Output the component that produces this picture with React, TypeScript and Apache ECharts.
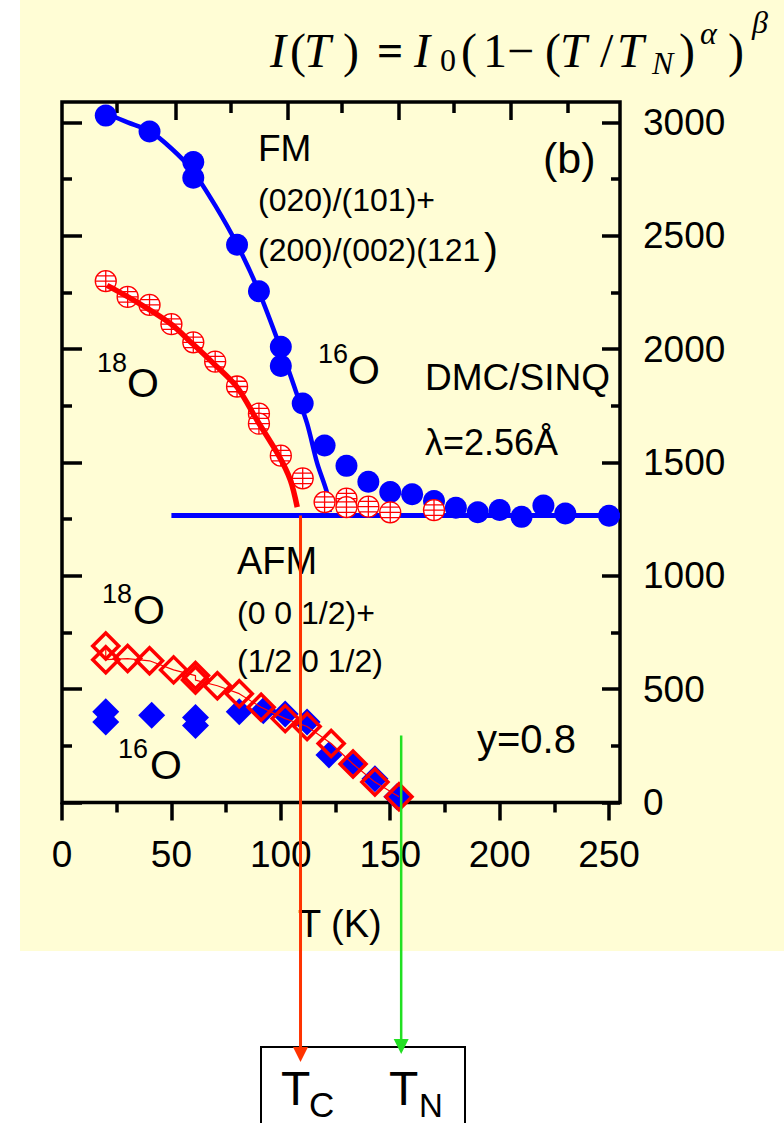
import React, { useEffect, useRef } from "react";
import * as echarts from "echarts";

// ---- data: temperature (K) and integrated intensity ----
// FM reflections, 16O sample
const FM16_T = [20, 40, 60, 60, 80, 90, 100, 100, 110, 120, 130, 140, 150, 160, 170, 180, 190, 200, 210, 220, 230, 250];
const FM16_I = [3030, 2960, 2825, 2756, 2460, 2255, 2010, 1926, 1760, 1575, 1485, 1415, 1370, 1360, 1330, 1300, 1280, 1290, 1260, 1310, 1275, 1265];
// FM reflections, 18O sample
const FM18_T = [20, 30, 40, 50, 60, 70, 80, 90, 90, 100, 110, 120, 130, 130, 140, 150, 170];
const FM18_I = [2300, 2230, 2195, 2110, 2030, 1945, 1835, 1715, 1671, 1530, 1430, 1325, 1340, 1303, 1305, 1280, 1290];
// AFM reflections, 18O sample
const AFM18_T = [20, 20, 30, 40, 51, 61, 61, 71, 81, 91, 102, 112, 123, 133, 143, 154];
const AFM18_I = [690, 630, 635, 625, 585, 560, 540, 515, 480, 420, 370, 335, 260, 170, 90, 25];
// AFM reflections, 16O sample
const AFM16_T = [20, 20, 41, 61, 61, 81, 92, 102, 112, 122, 133, 143, 153];
const AFM16_I = [400, 355, 385, 375, 340, 400, 405, 390, 355, 210, 165, 105, 25];
// fitted curves I(T) = I0(1-(T/TN)^a)^b on top of the background
const FIT16_T = [20.6, 30, 40, 50, 59.5, 70, 80, 90, 101.4, 106.7, 112, 116.6, 121.2, 122.3];
const FIT16_I = [3038, 3000, 2962, 2885, 2790, 2634, 2462, 2254, 1965, 1819, 1672, 1497, 1363, 1281];
const FIT18_T = [20.6, 34.3, 49.5, 59.5, 69.2, 80, 89.2, 99, 104.4, 107.5];
const FIT18_I = [2281, 2207, 2113, 2025, 1937, 1832, 1685, 1531, 1421, 1303];
// constant background level
const BASE_T = [50, 255];
const BASE_I = [1266, 1266];
// transition temperatures marked by the arrows
const TC = 109;
const TN = 155;
const TN_MARK_TOP = 296;

// axis ticks
const X_MAJOR = [0, 50, 100, 150, 200, 250];
const X_MINOR = [25, 75, 125, 175, 225];
const X_TOP_MAJOR = [52, 103, 154, 205];
const X_TOP_MINOR = [25, 77, 128, 179, 231];
const Y_MAJOR = [0, 500, 1000, 1500, 2000, 2500, 3000];
const Y_MINOR = [250, 750, 1250, 1750, 2250, 2750];
const X_MAX = 255;
const Y_MAX = 3090;

const BLUE = "#0000FF";
const RED = "#FF0000";
const ARROW_RED = "#FF3300";
const ARROW_GREEN = "#22E022";
const PANEL = "#FFFDD5";
const SANS = "'Liberation Sans', Arial, Helvetica, sans-serif";
const SERIF = "'Liberation Serif', 'Times New Roman', serif";

const RING =
  "path://M-10 0A10 10 0 1 0 10 0A10 10 0 1 0 -10 0Z M-10 0L10 0M0 -10L0 10M-8.7 -5L8.7 -5M-8.7 5L8.7 5";
const DIAMOND = "path://M0 -10L10 0L0 10L-10 0Z";

const zip = (xs: number[], ys: number[]) => xs.map((x, i) => [x, ys[i]]);

const tickStyle = { color: "#000", width: 3.5 };

function xAxisDef(position: "bottom" | "top", ticks: number[], len: number, inside: boolean, labels: boolean) {
  return {
    type: "value",
    min: 0,
    max: X_MAX,
    position,
    axisLine: { show: false, onZero: false },
    axisTick: { show: true, inside, length: len, lineStyle: tickStyle, customValues: ticks },
    axisLabel: labels
      ? {
          show: true,
          customValues: ticks,
          formatter: (v: number) => String(v),
          fontSize: 37,
          fontFamily: SANS,
          color: "#000",
          margin: 33,
        }
      : { show: false },
    splitLine: { show: false },
  };
}

function yAxisDef(position: "left" | "right", ticks: number[], len: number, labels: boolean) {
  return {
    type: "value",
    min: 0,
    max: Y_MAX,
    position,
    axisLine: { show: false, onZero: false },
    axisTick: { show: true, inside: true, length: len, lineStyle: tickStyle, customValues: ticks },
    axisLabel: labels
      ? {
          show: true,
          customValues: ticks,
          formatter: (v: number) => String(v),
          fontSize: 37,
          fontFamily: SANS,
          color: "#000",
          margin: 23,
        }
      : { show: false },
    splitLine: { show: false },
  };
}

const option = {
  animation: false,
  backgroundColor: "transparent",
  grid: {
    show: true,
    left: 62,
    right: 164,
    top: 102,
    bottom: 320.5,
    borderColor: "#000",
    borderWidth: 3.5,
    backgroundColor: "transparent",
    containLabel: false,
  },
  xAxis: [
    xAxisDef("bottom", X_MAJOR, 18, false, true),
    xAxisDef("bottom", X_MINOR, 10, false, false),
    xAxisDef("top", X_TOP_MAJOR, 18, true, false),
    xAxisDef("top", X_TOP_MINOR, 11, true, false),
  ],
  yAxis: [
    yAxisDef("right", Y_MAJOR, 18, true),
    yAxisDef("right", Y_MINOR, 9, false),
    yAxisDef("left", Y_MAJOR, 20, false),
    yAxisDef("left", Y_MINOR, 10, false),
  ],
  series: [
    {
      type: "line",
      data: zip(BASE_T, BASE_I),
      showSymbol: false,
      silent: true,
      lineStyle: { color: BLUE, width: 5 },
      z: 2,
    },
    {
      type: "line",
      data: zip(FIT16_T, FIT16_I),
      smooth: 0.3,
      showSymbol: false,
      silent: true,
      lineStyle: { color: BLUE, width: 4.5 },
      z: 2,
    },
    {
      type: "scatter",
      data: zip(FM16_T, FM16_I),
      symbol: "circle",
      symbolSize: 22,
      silent: true,
      itemStyle: { color: BLUE, opacity: 1 },
      z: 3,
    },
    {
      type: "scatter",
      data: zip(FM18_T, FM18_I),
      symbol: RING,
      symbolSize: 21,
      silent: true,
      itemStyle: { color: "#FFFFFF", borderColor: RED, borderWidth: 1.3, opacity: 1 },
      z: 4,
    },
    {
      type: "line",
      data: zip(FIT18_T, FIT18_I),
      smooth: 0.3,
      showSymbol: false,
      silent: true,
      lineStyle: { color: RED, width: 5.5 },
      z: 5,
    },
    {
      type: "scatter",
      data: zip(AFM16_T, AFM16_I),
      symbol: "diamond",
      symbolSize: 27,
      silent: true,
      itemStyle: { color: BLUE, opacity: 1 },
      z: 3,
    },
    {
      type: "line",
      data: zip(AFM18_T, AFM18_I),
      showSymbol: false,
      silent: true,
      lineStyle: { color: RED, width: 1.2 },
      z: 4,
    },
    {
      type: "scatter",
      data: zip(AFM18_T, AFM18_I),
      symbol: DIAMOND,
      symbolSize: 26,
      silent: true,
      itemStyle: { color: "rgba(0,0,0,0)", borderColor: RED, borderWidth: 3.5, opacity: 1 },
      z: 4,
    },
  ],
};

function label(text: string, x: number, y: number, size: number, extra: Record<string, unknown> = {}) {
  return {
    type: "text",
    x,
    y,
    silent: true,
    z: 20,
    style: {
      text,
      fill: "#000",
      fontSize: size,
      fontFamily: SANS,
      align: "left",
      verticalAlign: "middle",
      ...extra,
    },
  };
}

function serif(text: string, x: number, y: number, size: number, italic: boolean, bold = false) {
  return label(text, x, y, size, {
    fontFamily: SERIF,
    fontStyle: italic ? "italic" : "normal",
    fontWeight: bold ? "bold" : "normal",
  });
}

// I(T) = I0(1-(T/TN)^α)^β laid out piece by piece
const FORMULA = [
  serif("I", 270, 50, 48, true),
  serif("(", 290, 50, 48, false),
  serif("T", 304, 50, 48, true),
  serif(")", 343, 50, 48, false),
  serif("=", 377, 50, 46, false, true),
  serif("I", 414, 50, 48, true),
  serif("0", 440, 60, 32, false),
  serif("(", 461, 50, 48, false),
  serif("1", 483, 50, 48, false),
  serif("\u2212", 507, 50, 48, false),
  serif("(", 545, 50, 48, false),
  serif("T", 560, 50, 48, true),
  serif("/", 600, 50, 48, false),
  serif("T", 617, 50, 48, true),
  serif("N", 652, 63, 32, true),
  serif(")", 679, 50, 48, false),
  serif("\u03B1", 700, 33, 32, true),
  serif(")", 728, 50, 48, false),
  serif("\u03B2", 752, 22, 32, true),
];

const TEXTS = [
  label("FM", 258, 148, 37),
  label("(020)/(101)+", 258, 200, 32),
  label("(200)/(002)(121", 258, 250, 32),
  label(")", 484, 248, 42),
  label("(b)", 543, 158, 43),
  label("16", 318, 354, 27),
  label("O", 348, 370, 41),
  label("18", 97, 363, 27),
  label("O", 127, 383, 41),
  label("DMC/SINQ", 425, 377, 37),
  label("\u03BB=2.56\u00C5", 425, 442, 36),
  label("AFM", 237, 561, 38),
  label("18", 102, 594, 27),
  label("O", 133, 610, 41),
  label("(0 0 1/2)+", 237, 613, 32),
  label("(1/2 0 1/2)", 237, 661, 32),
  label("16", 118, 749, 27),
  label("O", 150, 765, 41),
  label("y=0.8", 477, 739, 40),
  label("T (K)", 298, 924, 38),
];

export default function App() {
  const ref = useRef<HTMLDivElement>(null);

  useEffect(() => {
    if (!ref.current) return;
    const chart = echarts.init(ref.current, null, { renderer: "svg", width: 784, height: 1123 });
    chart.setOption(option);

    const finder = { xAxisIndex: 0, yAxisIndex: 0 };
    const [xc, yc] = chart.convertToPixel(finder, [TC, BASE_I[0]]) as number[];
    const [xn, yn] = chart.convertToPixel(finder, [TN, TN_MARK_TOP]) as number[];

    const boxTop = 1047;
    const redTip = 1062;
    const greenTip = 1054;

    chart.setOption({
      graphic: [
        ...FORMULA,
        ...TEXTS,
        {
          type: "rect",
          silent: true,
          z: 20,
          shape: { x: 261, y: boxTop, width: 204, height: 90 },
          style: { fill: "none", stroke: "#000", lineWidth: 2 },
        },
        {
          type: "line",
          silent: true,
          z: 21,
          shape: { x1: xc, y1: yc, x2: xc, y2: redTip - 14 },
          style: { stroke: ARROW_RED, lineWidth: 3 },
        },
        {
          type: "polygon",
          silent: true,
          z: 21,
          shape: { points: [[xc - 7.5, redTip - 15], [xc + 7.5, redTip - 15], [xc, redTip]] },
          style: { fill: ARROW_RED },
        },
        {
          type: "line",
          silent: true,
          z: 21,
          shape: { x1: xn, y1: yn, x2: xn, y2: greenTip - 14 },
          style: { stroke: ARROW_GREEN, lineWidth: 2.5 },
        },
        {
          type: "polygon",
          silent: true,
          z: 21,
          shape: { points: [[xn - 7.5, greenTip - 15], [xn + 7.5, greenTip - 15], [xn, greenTip]] },
          style: { fill: ARROW_GREEN },
        },
        label("T", 281, 1088, 48),
        label("C", 309, 1104, 35),
        label("T", 389, 1088, 48),
        label("N", 419, 1105, 33),
      ],
    });

    return () => chart.dispose();
  }, []);

  return (
    <div style={{ position: "absolute", left: 0, top: 0, width: 784, height: 1123, background: "#FFFFFF" }}>
      <div style={{ position: "absolute", left: 20, top: 0, width: 764, height: 951, background: PANEL }} />
      <div ref={ref} style={{ position: "absolute", left: 0, top: 0, width: 784, height: 1123 }} />
    </div>
  );
}
